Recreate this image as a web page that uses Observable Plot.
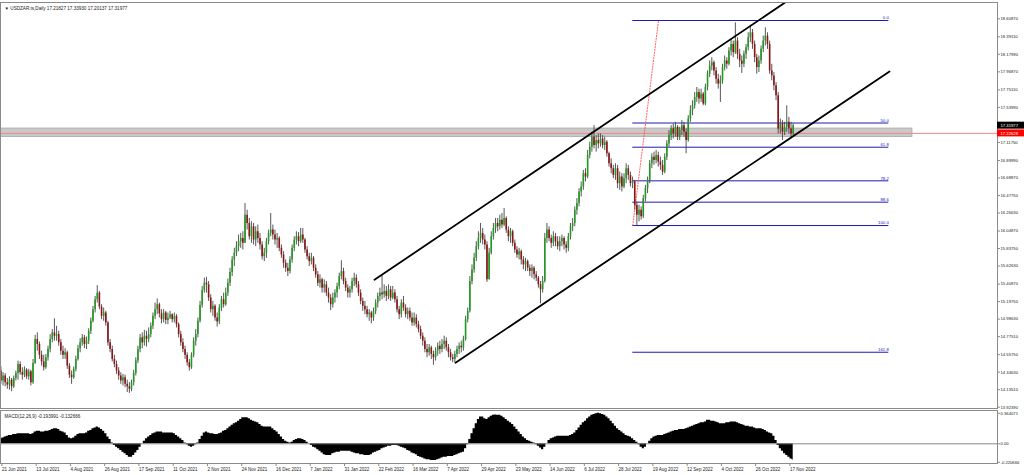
<!DOCTYPE html>
<html><head><meta charset="utf-8">
<script src="https://cdn.jsdelivr.net/npm/d3@7"></script>
<script src="https://cdn.jsdelivr.net/npm/@observablehq/plot@0.6"></script>
<style>
html,body{margin:0;padding:0;background:#fff;}
#chart{position:relative;width:1024px;height:475px;overflow:hidden;background:#fff;}
#chart svg{display:block;}
</style></head><body><div id="chart"></div>
<script>
// ---------- data ----------
const symbolTitle = "▼ USDZAR.ts,Daily 17.21827 17.33930 17.20137 17.31977";
const macdTitle = "MACD(12,26,9) -0.193991 -0.132666";
const firstOpen = 14.36;
const close = [
14.24,14.30,14.22,14.19,14.25,14.17,14.27,14.33,14.44,14.34,
14.31,14.37,14.29,14.35,14.22,14.45,14.74,14.68,14.55,14.47,
14.40,14.52,14.62,14.74,14.82,14.78,14.80,14.70,14.60,14.55,
14.58,14.42,14.31,14.28,14.38,14.50,14.63,14.70,14.76,14.68,
14.72,14.84,14.96,15.10,15.22,15.30,15.13,15.02,15.06,14.94,
14.70,14.62,14.50,14.44,14.36,14.30,14.24,14.28,14.20,14.17,
14.14,14.22,14.33,14.48,14.62,14.76,14.70,14.78,14.74,14.80,
14.90,15.02,15.10,15.16,15.05,14.98,15.06,14.97,15.00,15.04,
14.98,15.02,14.92,14.80,14.70,14.62,14.55,14.46,14.40,14.55,
14.72,14.80,14.96,15.15,15.33,15.42,15.40,15.24,15.10,15.14,
15.00,14.95,15.12,15.22,15.16,15.30,15.42,15.55,15.70,15.78,
15.86,15.92,15.96,15.90,16.24,16.14,15.98,16.10,15.94,16.04,
15.96,15.88,15.74,15.78,15.92,16.02,16.06,16.00,15.94,15.96,
15.84,15.76,15.66,15.60,15.56,15.70,15.84,15.94,15.98,15.92,
16.00,15.94,15.82,15.74,15.68,15.72,15.60,15.52,15.42,15.46,
15.36,15.40,15.30,15.24,15.16,15.24,15.30,15.38,15.50,15.56,
15.44,15.36,15.30,15.34,15.44,15.48,15.40,15.30,15.20,15.14,
15.10,15.04,15.06,15.00,15.08,15.18,15.26,15.30,15.28,15.32,
15.26,15.34,15.24,15.30,15.22,15.10,15.04,15.18,15.12,15.04,
15.08,15.00,14.94,15.00,14.92,14.86,14.78,14.72,14.62,14.58,
14.64,14.56,14.52,14.60,14.66,14.62,14.68,14.72,14.64,14.58,
14.52,14.50,14.56,14.62,14.66,14.64,14.74,14.98,15.08,15.44,
15.58,15.72,15.86,15.96,16.02,15.94,15.88,15.46,15.78,15.98,
16.08,16.14,16.10,16.18,16.12,16.20,16.06,15.98,16.04,15.90,
15.82,15.76,15.80,15.70,15.64,15.68,15.60,15.56,15.60,15.52,
15.48,15.40,15.34,15.44,15.96,16.06,15.96,15.90,15.98,15.92,
15.86,15.92,15.96,15.88,15.84,15.98,16.10,16.14,16.30,16.38,
16.52,16.58,16.74,16.70,16.96,17.06,17.18,17.08,17.14,17.10,
17.16,17.08,17.12,16.98,16.86,16.80,16.72,16.80,16.62,16.70,
16.58,16.68,16.80,16.72,16.62,16.64,16.36,16.24,16.30,16.22,
16.44,16.56,16.66,16.86,16.94,16.90,16.96,16.88,16.84,16.76,
16.94,17.10,17.20,17.28,17.22,17.30,17.18,17.26,17.32,17.24,
17.14,17.40,17.50,17.56,17.66,17.72,17.64,17.70,17.58,17.78,
17.94,18.04,18.08,17.98,17.88,17.82,17.86,18.02,18.10,18.06,
18.22,18.30,18.20,18.34,18.18,18.10,18.06,18.18,18.26,18.38,
18.44,18.30,18.14,18.02,18.10,18.24,18.34,18.40,18.30,17.98,
17.92,17.80,17.68,17.28,17.34,17.24,17.30,17.36,17.28,17.21827,
17.31977];
const high = [
14.41,14.34,14.33,14.27,14.29,14.27,14.30,14.36,14.48,14.47,
14.40,14.41,14.39,14.38,14.37,14.50,14.79,14.82,14.71,14.60,
14.55,14.56,14.66,14.80,14.86,14.99,14.90,14.84,14.74,14.66,
14.63,14.60,14.45,14.36,14.41,14.54,14.67,14.75,14.80,14.79,
14.77,14.87,15.00,15.14,15.26,15.39,15.32,15.16,15.12,15.08,
14.96,14.74,14.66,14.55,14.48,14.40,14.34,14.32,14.31,14.25,
14.22,14.25,14.37,14.52,14.66,14.80,14.82,14.85,14.84,14.88,
14.94,15.06,15.18,15.23,15.18,15.10,15.10,15.08,15.06,15.08,
15.05,15.06,15.04,14.94,14.84,14.75,14.66,14.58,14.50,14.58,
14.76,14.86,15.00,15.20,15.38,15.48,15.49,15.44,15.28,15.20,
15.16,15.06,15.16,15.26,15.30,15.36,15.47,15.60,15.74,15.84,
15.92,16.00,16.02,16.04,16.38,16.30,16.20,16.16,16.14,16.10,
16.12,16.02,15.92,15.84,15.96,16.06,16.26,16.12,16.06,16.02,
15.98,15.88,15.80,15.70,15.66,15.74,15.88,15.98,16.04,16.03,
16.08,16.08,15.96,15.86,15.78,15.78,15.74,15.64,15.56,15.52,
15.48,15.46,15.44,15.36,15.28,15.30,15.34,15.42,15.54,15.69,
15.60,15.48,15.40,15.38,15.48,15.54,15.52,15.44,15.34,15.24,
15.20,15.14,15.10,15.08,15.12,15.22,15.30,15.36,15.51,15.40,
15.38,15.40,15.38,15.38,15.34,15.26,15.14,15.22,15.26,15.16,
15.12,15.12,15.06,15.06,15.04,14.96,14.90,14.82,14.76,14.68,
14.68,14.66,14.60,14.64,14.70,14.72,14.74,14.78,14.76,14.68,
14.62,14.56,14.60,14.66,14.70,14.72,14.78,15.02,15.12,15.50,
15.64,15.78,15.92,16.04,16.14,16.08,16.00,15.92,15.84,16.04,
16.14,16.20,16.20,16.24,16.26,16.32,16.22,16.10,16.08,16.06,
15.94,15.86,15.84,15.82,15.74,15.72,15.70,15.64,15.64,15.62,
15.56,15.50,15.44,15.50,16.02,16.14,16.10,16.00,16.04,16.02,
15.98,15.98,16.00,15.98,15.92,16.02,16.14,16.20,16.34,16.44,
16.56,16.64,16.78,16.80,17.02,17.12,17.24,17.32,17.20,17.22,
17.22,17.20,17.18,17.14,17.00,16.92,16.84,16.86,16.84,16.76,
16.74,16.74,16.86,16.84,16.76,16.70,16.66,16.40,16.36,16.34,
16.48,16.60,16.70,16.90,16.98,17.00,17.02,17.00,16.94,16.90,
16.98,17.14,17.26,17.32,17.34,17.36,17.32,17.30,17.38,17.36,
17.28,17.44,17.56,17.62,17.72,17.78,17.76,17.76,17.72,17.82,
17.98,18.10,18.14,18.10,18.02,17.94,17.92,18.06,18.16,18.14,
18.26,18.36,18.34,18.56,18.38,18.24,18.16,18.22,18.30,18.44,
18.53,18.48,18.34,18.18,18.16,18.28,18.40,18.50,18.44,18.34,
18.06,17.96,17.84,17.72,17.40,17.38,17.36,17.56,17.42,17.36,
17.33930];
const low = [
14.20,14.18,14.17,14.14,14.13,14.11,14.15,14.24,14.25,14.31,
14.25,14.28,14.26,14.25,14.18,14.20,14.44,14.60,14.50,14.42,
14.36,14.38,14.48,14.58,14.70,14.72,14.72,14.66,14.55,14.50,
14.50,14.38,14.27,14.20,14.26,14.35,14.48,14.58,14.66,14.63,
14.62,14.68,14.80,14.94,15.06,15.18,15.10,14.98,14.96,14.90,
14.66,14.58,14.47,14.40,14.32,14.25,14.20,14.18,14.16,14.10,
14.09,14.11,14.18,14.30,14.45,14.58,14.63,14.66,14.65,14.70,
14.76,14.86,14.98,15.04,15.00,14.93,14.94,14.92,14.92,14.98,
14.94,14.94,14.88,14.76,14.66,14.58,14.50,14.42,14.36,14.38,
14.52,14.66,14.76,14.94,15.12,15.30,15.30,15.20,15.06,15.02,
14.96,14.89,14.92,15.08,15.12,15.14,15.26,15.38,15.50,15.62,
15.74,15.80,15.84,15.82,15.92,16.06,15.94,15.90,15.88,15.86,
15.90,15.82,15.70,15.68,15.72,15.88,15.98,15.94,15.88,15.84,
15.80,15.72,15.60,15.55,15.50,15.53,15.66,15.80,15.88,15.86,
15.90,15.90,15.78,15.70,15.62,15.64,15.56,15.48,15.38,15.36,
15.30,15.30,15.26,15.18,15.09,15.12,15.18,15.24,15.34,15.46,
15.40,15.32,15.24,15.24,15.30,15.38,15.36,15.26,15.16,15.08,
15.04,15.00,14.96,14.93,14.96,15.04,15.12,15.20,15.22,15.24,
15.20,15.22,15.20,15.22,15.18,15.06,14.98,15.00,15.08,15.00,
14.98,14.96,14.90,14.90,14.88,14.82,14.74,14.66,14.58,14.52,
14.54,14.50,14.43,14.48,14.54,14.56,14.58,14.62,14.60,14.52,
14.48,14.46,14.46,14.52,14.56,14.58,14.60,14.72,14.94,15.06,
15.40,15.54,15.68,15.82,15.90,15.88,15.82,15.43,15.48,15.76,
15.94,16.02,16.04,16.06,16.08,16.10,16.02,15.92,15.90,15.86,
15.78,15.72,15.70,15.64,15.58,15.56,15.56,15.50,15.48,15.46,
15.44,15.36,15.17,15.30,15.42,15.90,15.92,15.84,15.86,15.86,
15.82,15.80,15.86,15.82,15.78,15.80,15.94,16.04,16.10,16.24,
16.34,16.46,16.54,16.64,16.68,16.92,17.00,17.04,17.00,17.04,
17.06,17.04,17.02,16.94,16.82,16.74,16.68,16.66,16.56,16.54,
16.52,16.56,16.62,16.66,16.58,16.56,16.30,16.115,16.16,16.18,
16.20,16.40,16.50,16.62,16.80,16.84,16.86,16.82,16.78,16.72,
16.74,16.90,17.06,17.14,17.16,17.18,17.14,17.14,17.20,17.18,
16.98,17.12,17.36,17.44,17.52,17.60,17.58,17.60,17.56,17.56,
17.74,17.90,17.98,17.92,17.82,17.76,17.60,17.82,17.98,18.00,
18.04,18.16,18.14,18.18,18.12,18.02,17.95,18.02,18.12,18.22,
18.32,18.24,18.08,17.94,17.96,18.06,18.20,18.28,18.24,17.94,
17.86,17.74,17.62,17.22,17.22,17.14,17.20,17.24,17.22,17.18,
17.20137];
const macd = [
0.06,0.07,0.08,0.09,0.10,0.10,0.11,0.11,0.12,0.12,
0.12,0.12,0.12,0.12,0.11,0.12,0.14,0.15,0.15,0.14,
0.14,0.15,0.15,0.16,0.17,0.18,0.18,0.17,0.15,0.14,
0.13,0.10,0.07,0.06,0.07,0.09,0.11,0.12,0.12,0.12,
0.13,0.15,0.16,0.18,0.19,0.20,0.19,0.17,0.15,0.12,
0.08,0.05,0.01,-0.02,-0.04,-0.06,-0.08,-0.10,-0.12,-0.14,
-0.16,-0.16,-0.14,-0.11,-0.08,-0.04,0.00,0.03,0.06,0.08,
0.10,0.12,0.13,0.14,0.14,0.14,0.13,0.13,0.13,0.13,
0.13,0.12,0.10,0.08,0.06,0.04,0.01,-0.01,-0.03,-0.04,
-0.03,-0.01,0.01,0.05,0.09,0.13,0.14,0.13,0.12,0.12,
0.11,0.11,0.12,0.13,0.15,0.16,0.18,0.20,0.22,0.24,
0.25,0.27,0.29,0.31,0.31,0.31,0.30,0.28,0.27,0.26,
0.25,0.23,0.21,0.20,0.20,0.20,0.20,0.18,0.16,0.14,
0.11,0.08,0.05,0.03,0.02,0.01,0.02,0.04,0.05,0.06,
0.06,0.05,0.04,0.02,0.00,-0.02,-0.04,-0.05,-0.07,-0.09,
-0.11,-0.13,-0.14,-0.14,-0.14,-0.12,-0.11,-0.10,-0.10,-0.09,
-0.09,-0.09,-0.09,-0.09,-0.10,-0.11,-0.12,-0.12,-0.13,-0.13,
-0.14,-0.14,-0.14,-0.13,-0.11,-0.10,-0.09,-0.08,-0.06,-0.05,
-0.04,-0.03,-0.03,-0.02,-0.02,-0.02,-0.03,-0.04,-0.05,-0.06,
-0.08,-0.09,-0.11,-0.12,-0.13,-0.15,-0.16,-0.17,-0.18,-0.19,
-0.19,-0.20,-0.20,-0.20,-0.19,-0.18,-0.17,-0.16,-0.16,-0.15,
-0.15,-0.15,-0.14,-0.13,-0.12,-0.11,-0.10,-0.06,-0.01,0.05,
0.12,0.18,0.24,0.29,0.32,0.32,0.30,0.29,0.31,0.33,
0.34,0.345,0.34,0.34,0.33,0.31,0.29,0.27,0.25,0.23,
0.20,0.17,0.14,0.11,0.08,0.06,0.04,0.03,0.02,0.01,
-0.01,-0.03,-0.05,-0.07,-0.04,0.00,0.04,0.06,0.07,0.08,
0.09,0.09,0.09,0.09,0.09,0.09,0.10,0.11,0.13,0.16,
0.19,0.22,0.25,0.27,0.30,0.32,0.34,0.35,0.36,0.364,
0.36,0.35,0.34,0.32,0.30,0.27,0.24,0.21,0.18,0.16,
0.14,0.12,0.10,0.09,0.08,0.06,0.04,0.02,-0.01,-0.04,
-0.06,-0.04,0.00,0.03,0.06,0.08,0.09,0.10,0.10,0.10,
0.11,0.12,0.13,0.14,0.15,0.16,0.16,0.17,0.17,0.17,
0.18,0.19,0.20,0.21,0.22,0.23,0.24,0.25,0.25,0.26,
0.28,0.28,0.27,0.27,0.26,0.25,0.24,0.24,0.24,0.25,
0.25,0.26,0.26,0.26,0.25,0.24,0.23,0.22,0.21,0.21,
0.20,0.20,0.19,0.18,0.18,0.18,0.17,0.16,0.14,0.13,
0.12,0.09,0.04,-0.02,-0.06,-0.09,-0.12,-0.14,-0.16,-0.18,
-0.193991];
const dateLabels = ["21 Jun 2021","13 Jul 2021","4 Aug 2021","26 Aug 2021","17 Sep 2021","11 Oct 2021","2 Nov 2021","24 Nov 2021","16 Dec 2021","7 Jan 2022","31 Jan 2022","22 Feb 2022","16 Mar 2022","7 Apr 2022","29 Apr 2022","23 May 2022","14 Jun 2022","6 Jul 2022","28 Jul 2022","19 Aug 2022","12 Sep 2022","4 Oct 2022","26 Oct 2022","17 Nov 2022"];
const dateBarIndex = [0,16,32,48,64,80,96,112,128,144,160,176,192,208,224,240,256,272,288,304,320,336,352,368];
const priceTicks = [18.60870,18.39110,18.17990,17.96870,17.75110,17.53990,17.11750,16.89990,16.68870,16.47750,16.26630,16.04870,15.83750,15.62630,15.40870,15.19750,14.98630,14.77510,14.55750,14.34630,14.13510,13.92390];
const macdTicks = [0.364071, 0, -0.220666];
const lastPrice = 17.31977;
const bidPrice = 17.22628;
const fibLevels = [0, 50, 61.8, 78.2, 88.6, 100, 161.8];
const fibHigh = 18.588, fibLow = 16.115;
const fibSpanBars = [295.1, 414.66];
const fibAnchorBars = [295.1, 307.1];
const channelUpper = [[174.47, 15.4605], [366.41, 18.8089]];
const channelLower = [[212.30, 14.4594], [414.98, 17.9730]];
const zonePrices = [17.183, 17.285];
const zoneEndBar = 425.7;

// ---------- layout ----------
const W = 1024, plotW = 997, pxPerBar = 788 / 368;
const xDomain = [-0.4 / pxPerBar, (plotW - 0.4) / pxPerBar];
const yDomain = [13.9202, 18.7932];
const pricePerPx = (yDomain[1] - yDomain[0]) / (407 - 3);
const axisEndBar = xDomain[1] + (W - plotW) / pxPerBar;
const bull = "#229922", bear = "#8b1414", wick = "#444", fibColor = "#1c1cb0", frameColor = "#8a8a8a";
const font = "'Liberation Sans', Arial, sans-serif";

const bars = close.map((c, i) => {
  const o = i ? close[i - 1] : firstOpen;
  return {i, open: o, close: c, high: Math.max(high[i], o, c), low: Math.min(low[i], o, c)};
});
const macdData = macd.map((v, i) => ({i, v}));
const fibData = fibLevels.map(l => ({l, p: fibHigh - l / 100 * (fibHigh - fibLow)}));
const priceBoxes = [{price: lastPrice, bg: "#000000"}, {price: bidPrice, bg: "#ff0000"}];
const labelMap = new Map(dateBarIndex.map((b, k) => [b, dateLabels[k]]));

const main = Plot.plot({
  width: W, height: 409,
  marginLeft: 0, marginRight: W - plotW, marginTop: 2, marginBottom: 1,
  x: {domain: xDomain, range: [0, plotW], label: null, axis: null},
  y: {domain: yDomain, range: [407, 3], label: null},
  style: {fontFamily: font, fontSize: "4.3px", color: "#222", background: "#fff", overflow: "visible"},
  marks: [
    Plot.rect([zonePrices], {x1: xDomain[0], x2: zoneEndBar, y1: d => d[0], y2: d => d[1], fill: "#c9c9c9", stroke: "#a9a9a9", strokeWidth: 0.8, clip: true}),
    Plot.ruleY([bidPrice], {stroke: "#f08a8a", strokeWidth: 1}),
    Plot.ruleY(fibData, {y: "p", x1: fibSpanBars[0], x2: fibSpanBars[1], stroke: fibColor, strokeWidth: 1}),
    Plot.text(fibData, {y: "p", x: fibSpanBars[1], text: d => d.l.toFixed(1), textAnchor: "end", dy: -2.6, fill: fibColor, fontSize: 4.3}),
    Plot.line([[fibAnchorBars[0], fibLow], [fibAnchorBars[1], fibHigh]], {x: d => d[0], y: d => d[1], stroke: "#ff5050", strokeWidth: 0.9, strokeDasharray: "1.2,1.6"}),
    Plot.ruleX(bars, {x: "i", y1: "low", y2: "high", stroke: wick, strokeWidth: 0.9}),
    Plot.ruleX(bars, {x: "i", y1: "open", y2: "close", stroke: d => d.close >= d.open ? bull : bear, strokeWidth: 1.6}),
    Plot.line(channelUpper, {x: d => d[0], y: d => d[1], stroke: "#000", strokeWidth: 1.8, clip: true}),
    Plot.line(channelLower, {x: d => d[0], y: d => d[1], stroke: "#000", strokeWidth: 1.8, clip: true}),
    Plot.frame({stroke: frameColor, strokeWidth: 1}),
    Plot.axisY({anchor: "right", ticks: priceTicks, tickFormat: d => d.toFixed(5), tickSize: 2, tickPadding: 1, stroke: frameColor, fontSize: 4.2, label: null}),
    Plot.rect(priceBoxes, {x1: xDomain[1], x2: axisEndBar, y1: d => d.price - 3.5 * pricePerPx, y2: d => d.price + 3.5 * pricePerPx, fill: "bg"}),
    Plot.text(priceBoxes, {x: xDomain[1], y: "price", text: d => d.price.toFixed(5), dx: 3, textAnchor: "start", fill: "#fff", fontSize: 4.2}),
    Plot.text([symbolTitle], {frameAnchor: "top-left", dx: 4, dy: 4.5, textAnchor: "start", fontSize: 4.6, fill: "#222"})
  ]
});

const macdPlot = Plot.plot({
  width: W, height: 66,
  marginLeft: 0, marginRight: W - plotW, marginTop: 1, marginBottom: 12,
  x: {domain: xDomain, range: [0, plotW], label: null},
  y: {domain: [-0.220666, 0.364071], range: [52.8, 3.8], label: null},
  style: {fontFamily: font, fontSize: "4.5px", color: "#222", background: "#fff", overflow: "visible"},
  marks: [
    Plot.areaY(macdData, {x: "i", y: "v", curve: "step", fill: "#000"}),
    Plot.ruleY([0], {stroke: "#888", strokeWidth: 1}),
    Plot.frame({stroke: frameColor, strokeWidth: 1}),
    Plot.axisY({anchor: "right", ticks: macdTicks, tickFormat: d => d === 0 ? "0.00" : d.toFixed(6), tickSize: 2, tickPadding: 1, stroke: frameColor, fontSize: 4.2, label: null}),
    Plot.axisX({anchor: "bottom", ticks: dateBarIndex, tickFormat: d => labelMap.get(d), textAnchor: "start", dx: 1, tickSize: 3, tickPadding: 1, stroke: frameColor, fontSize: 4.5, label: null}),
    Plot.text([macdTitle], {frameAnchor: "top-left", dx: 4, dy: 4.5, textAnchor: "start", fontSize: 4.6, fill: "#222"})
  ]
});

const root = document.getElementById("chart");
root.appendChild(main);
root.appendChild(macdPlot);
</script>
</body></html>
